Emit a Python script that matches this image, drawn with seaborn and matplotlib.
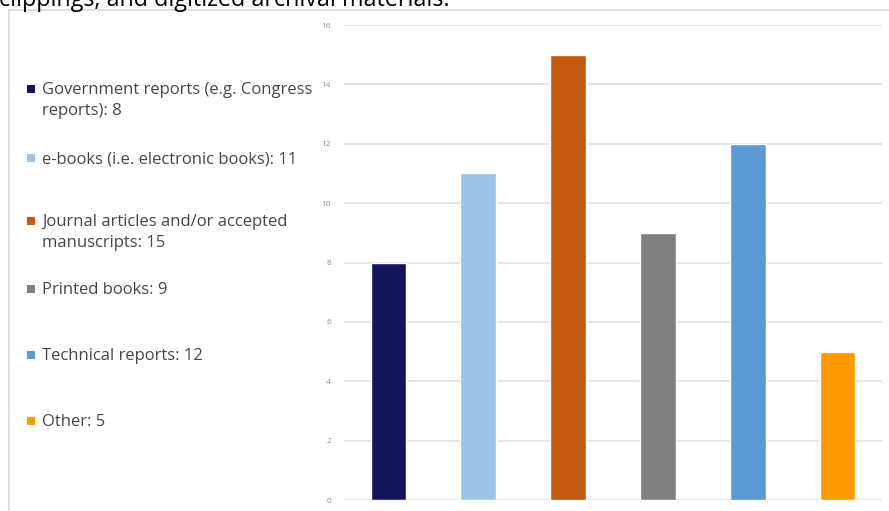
import matplotlib
matplotlib.use("Agg")
import matplotlib.pyplot as plt
from matplotlib.patches import Rectangle
import seaborn as sns
import pandas as pd

categories = [
    "Government reports (e.g. Congress reports)",
    "e-books (i.e. electronic books)",
    "Journal articles and/or accepted manuscripts",
    "Printed books",
    "Technical reports",
    "Other",
]
counts = [8, 11, 15, 9, 12, 5]
legend_labels = [
    "Government reports (e.g. Congress\nreports): 8",
    "e-books (i.e. electronic books): 11",
    "Journal articles and/or accepted\nmanuscripts: 15",
    "Printed books: 9",
    "Technical reports: 12",
    "Other: 5",
]
colors = ["#13135E", "#9DC3E6", "#C55A11", "#7F7F7F", "#5B9BD5", "#FF9900"]
y_ticks = [0, 2, 4, 6, 8, 10, 12, 14, 16]

sns.set_theme(style="white")
plt.rcParams["font.family"] = ["Open Sans", "DejaVu Sans"]

W, H = 889, 511
fig = plt.figure(figsize=(W / 100, H / 100), dpi=100)
fig.patch.set_facecolor("white")

# chart frame
fig.patches.append(Rectangle((9 / W, -0.01), 1.0, 1.01 - 10 / H, transform=fig.transFigure,
                             facecolor="none", edgecolor="#d9d9d9", linewidth=1.2,
                             zorder=-5))

# caption line above the chart
fig.text(-1 / W, 1 - 6 / H, "clippings, and digitized archival materials.",
         fontsize=16.8, color="black", ha="left", va="baseline")

ax = fig.add_axes([343.6 / W, 11 / H, 538.8 / W, 475 / H])
df = pd.DataFrame({"category": categories, "count": counts})
sns.barplot(data=df, x="category", y="count", hue="category", palette=colors,
            order=categories, hue_order=categories, dodge=False, width=0.4,
            legend=False, ax=ax, saturation=1)
ax.set_xlim(-0.5, 5.5)
ax.set_ylim(0, 16)
ax.set_yticks(y_ticks)
ax.set_yticklabels([str(t) for t in y_ticks], fontsize=6, color="#8c8c8c")
ax.tick_params(axis="y", length=0, pad=9)
ax.set_xticks([])
ax.set_xlabel("")
ax.set_ylabel("")
ax.set_facecolor("none")
for s in ax.spines.values():
    s.set_visible(False)
ax.yaxis.grid(True, color="#dedede", linewidth=1.1)
ax.set_axisbelow(True)

# legend entries on the left
legend_y = [89, 158, 221, 289, 355, 421]
for label, color, yy in zip(legend_labels, colors, legend_y):
    fig.patches.append(Rectangle((27 / W, 1 - (yy + 4) / H), 8 / W, 8 / H,
                                 transform=fig.transFigure, facecolor=color,
                                 edgecolor="none"))
    fig.text(42 / W, 1 - (yy - 7) / H, label, fontsize=12, color="#464646",
             ha="left", va="top", linespacing=1.42)

fig.savefig("out.png", dpi=100)
